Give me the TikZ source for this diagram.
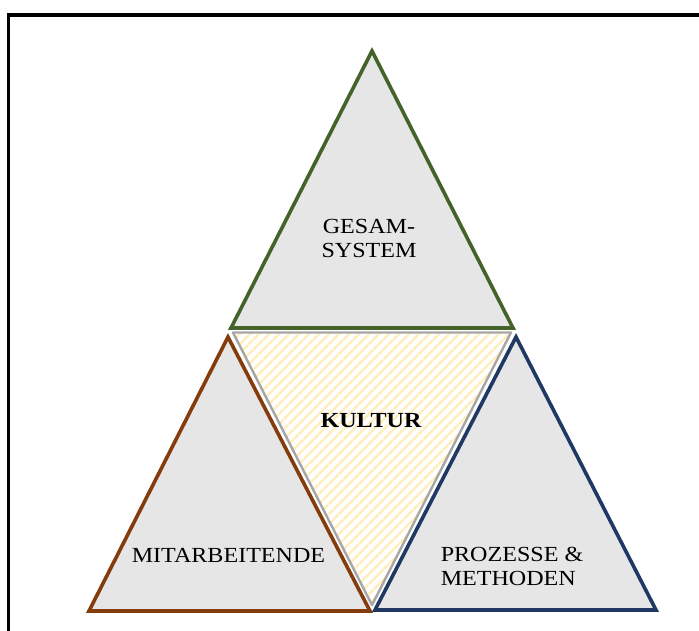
\documentclass[tikz,border=0pt]{standalone}
\usepackage{fontspec}
\setmainfont{Liberation Serif}[FakeStretch=1.12]
\usetikzlibrary{patterns.meta}
\definecolor{triGrey}{HTML}{E7E6E6}
\definecolor{triGreen}{HTML}{43632A}
\definecolor{triBrown}{HTML}{843C0C}
\definecolor{triBlue}{HTML}{1F3864}
\definecolor{hatchYellow}{HTML}{FFEDBA}
\definecolor{edgeGrey}{HTML}{A6A6A6}
\tikzset{
  tri/.style={fill=triGrey, line width=3.6pt, line join=miter},
  lbl/.style={inner sep=0pt, font=\fontsize{21.5}{24}\selectfont, text=black}
}
\begin{document}
\begin{tikzpicture}[x=1pt,y=-1pt]
\useasboundingbox (0,0) rectangle (699,630);
\fill[white] (0,0) rectangle (699,630);
% frame
\draw[line width=3.2pt] (8.7,640) -- (8.7,15) -- (710,15);
% top triangle
\draw[tri, draw=triGreen] (372,51) -- (231,328) -- (513,328) -- cycle;
% middle hatched triangle
\fill[white] (232,332) -- (512,332) -- (372,606) -- cycle;
\fill[pattern={Lines[angle=45,distance=7.4pt,line width=3pt]}, pattern color=hatchYellow]
  (232,332) -- (512,332) -- (372,606) -- cycle;
\draw[edgeGrey, line width=2.4pt, line join=round] (233,332.5) -- (511,332.5) -- (372,605) -- cycle;
% left triangle
\draw[tri, draw=triBrown] (228,337) -- (89,611) -- (370,611) -- cycle;
% right triangle
\draw[tri, draw=triBlue] (516,337) -- (375,610) -- (656,610) -- cycle;
% labels
\node[lbl, align=center] (ges) at (369,238) {GESAM-\\SYSTEM};
\node[lbl, font=\fontsize{21.5}{24}\selectfont\bfseries] (kul) at (371,421) {KULTUR};
\node[lbl] (mit) at (228.5,555) {MITARBEITENDE};
\node[lbl, align=left] (pro) at (512,566) {PROZESSE \&\\METHODEN};
\end{tikzpicture}
\end{document}
